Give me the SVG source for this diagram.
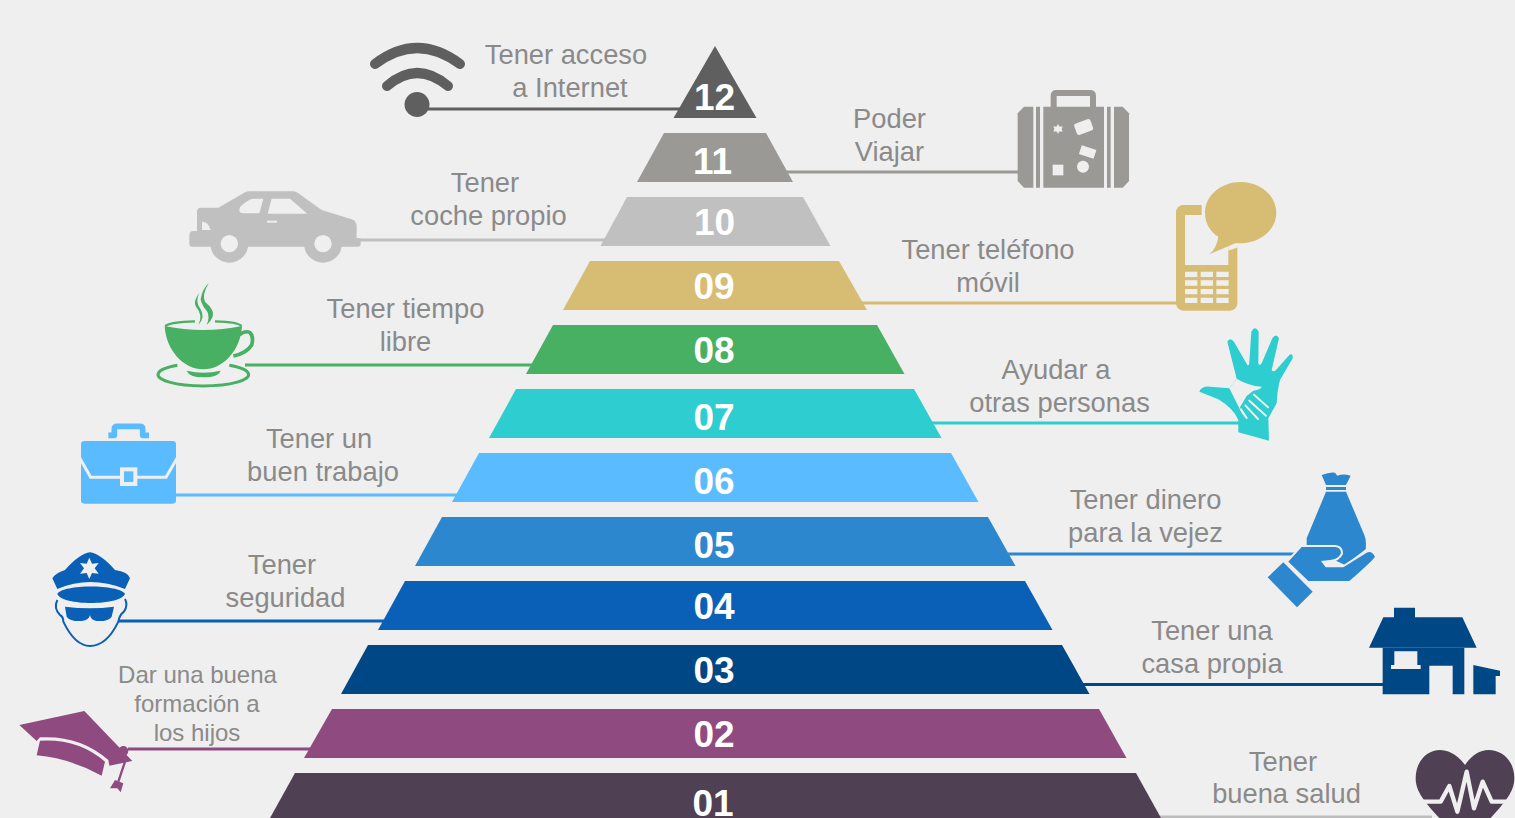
<svg xmlns="http://www.w3.org/2000/svg" width="1515" height="818" viewBox="0 0 1515 818">
<style>
text{font-family:"Liberation Sans",Arial,sans-serif;text-anchor:middle}
.l{font-size:27.300px;fill:#8a8a8a}
.s{font-size:24px;fill:#8a8a8a}
.n{font-size:37px;font-weight:700;fill:#fff}
.c{fill:none;stroke-width:3}
.bg{fill:#efefef}
</style>
<rect width="1515" height="818" fill="#efefef"/>
<g id="connectors">
<path class="c" stroke="#5f5f5f" d="M428 109H684"/>
<path class="c" stroke="#9a9996" d="M785 172H1020"/>
<path class="c" stroke="#c0c0c0" d="M358 240H606"/>
<path class="c" stroke="#d7bc74" d="M860 303H1180"/>
<path class="c" stroke="#48b063" d="M245 365H536"/>
<path class="c" stroke="#2dcdd0" d="M932 423H1242"/>
<path class="c" stroke="#5abcff" d="M174 495H460"/>
<path class="c" stroke="#2c87ce" d="M1008 554H1302"/>
<path class="c" stroke="#0a60b6" d="M118 621H386"/>
<path class="c" stroke="#004785" d="M1082 684.500H1386"/>
<path class="c" stroke="#8f4a7f" d="M128 749H312"/>
<path class="c" stroke="#bdbdbd" d="M1155 817H1432"/>
</g>
<g id="level-12"><path fill="#5f5f5f" d="M715 46L756.500 118H673.500Z"/><text class="n" x="714.500" y="110">12</text></g>
<g id="level-11"><path fill="#9a9996" d="M664 133H766L793 182H637Z"/><text class="n" x="712.500" y="174">11</text></g>
<g id="level-10"><path fill="#c0c0c0" d="M627 197H803L830.500 246H600.500Z"/><text class="n" x="714.500" y="235">10</text></g>
<g id="level-09"><path fill="#d7bc74" d="M590 261H839L867 310H563Z"/><text class="n" x="714" y="299">09</text></g>
<g id="level-08"><path fill="#48b063" d="M553 325H877L904.500 374H526Z"/><text class="n" x="714" y="363">08</text></g>
<g id="level-07"><path fill="#2dcdd0" d="M516 389H914L941.500 438H489Z"/><text class="n" x="714" y="430">07</text></g>
<g id="level-06"><path fill="#5abcff" d="M479 453H951L978.500 502H452Z"/><text class="n" x="714" y="494">06</text></g>
<g id="level-05"><path fill="#2c87ce" d="M442 517H988L1015.500 566H415Z"/><text class="n" x="714" y="558">05</text></g>
<g id="level-04"><path fill="#0a60b6" d="M405 581H1025L1052.500 630H378Z"/><text class="n" x="714" y="619">04</text></g>
<g id="level-03"><path fill="#004785" d="M368 645H1062L1089.500 694H341Z"/><text class="n" x="714" y="683">03</text></g>
<g id="level-02"><path fill="#8f4a7f" d="M332 709H1099L1126.500 758H304Z"/><text class="n" x="714" y="747">02</text></g>
<g id="level-01"><path fill="#4f4053" d="M295 773H1136L1161 818H270Z"/><text class="n" x="713" y="816">01</text></g>
<g id="labels">
<text class="l" x="566" y="64">Tener acceso</text><text class="l" x="570" y="97">a Internet</text>
<text class="l" x="889.500" y="128">Poder</text><text class="l" x="889.500" y="161">Viajar</text>
<text class="l" x="485" y="192">Tener</text><text class="l" x="488.500" y="225">coche propio</text>
<text class="l" x="988" y="259">Tener teléfono</text><text class="l" x="988" y="292">móvil</text>
<text class="l" x="405.500" y="318">Tener tiempo</text><text class="l" x="405.500" y="351">libre</text>
<text class="l" x="1056" y="379">Ayudar a</text><text class="l" x="1059.500" y="412">otras personas</text>
<text class="l" x="319" y="448">Tener un</text><text class="l" x="323" y="481">buen trabajo</text>
<text class="l" x="1145.500" y="509">Tener dinero</text><text class="l" x="1145.500" y="542">para la vejez</text>
<text class="l" x="282" y="574">Tener</text><text class="l" x="285.500" y="607">seguridad</text>
<text class="l" x="1212" y="640">Tener una</text><text class="l" x="1212" y="673">casa propia</text>
<text class="s" x="197.500" y="683">Dar una buena</text><text class="s" x="197" y="712">formación a</text><text class="s" x="197" y="741">los hijos</text>
<text class="l" x="1283" y="771">Tener</text><text class="l" x="1286.500" y="803">buena salud</text>
</g>
<g id="icon-wifi" fill="none" stroke="#5f5f5f" stroke-width="10" stroke-linecap="round">
<path d="M375 64Q417 32 460 64"/><path d="M387 86Q417 60 448 86"/><circle cx="417" cy="104.500" r="12.500" fill="#5f5f5f" stroke="none"/>
</g>
<g id="icon-suitcase" transform="translate(1000 80) scale(.33333)">
<path fill="none" stroke="#9a9996" stroke-width="18" d="M161 85V47Q161 39 170 39H270Q279 39 279 47V85"/>
<path fill="#9a9996" d="M72 80H368L387 100V303L368 323H72L53 303V100Z"/>
<path class="bg" d="M100 78h8v247h-8zM120 78h10v247h-10zM312 78h9v247h-9zM332 78h10v247h-10z"/>
<path class="bg" d="M174 132l5 8 9-1-3 8 3 8-9-1-5 7-5-7-9 1 3-8-3-8 9 1z"/>
<rect class="bg" x="225" y="123" width="52" height="36" rx="8" transform="rotate(-20 251 141)"/>
<rect class="bg" x="240" y="202" width="46" height="28" transform="rotate(18 263 216)"/>
<rect class="bg" x="158" y="254" width="32" height="32"/><circle class="bg" cx="249" cy="260" r="18"/>
</g>
<g id="icon-car" transform="translate(150 20) scale(.33333)" fill="#c0c0c0">
<path d="M118 645Q118 633 130 633H141V575Q141 563 153 563H205L285 517Q290 514 300 514H430Q437 514 445 520L515 570L605 598Q620 603 620 620V655H632V672Q632 680 624 680H126Q118 680 118 672Z"/>
<circle cx="238" cy="671" r="57"/><circle cx="519" cy="671" r="57"/>
<circle class="bg" cx="238" cy="671" r="26"/><circle class="bg" cx="519" cy="671" r="26"/>
<path class="bg" d="M268 570Q268 560 280 552Q300 536 310 536H340L328 580H280Q268 580 268 570Z"/>
<path class="bg" d="M365 536H420L472 581H353Z"/><rect class="bg" x="351" y="602" width="30" height="6"/>
<path class="bg" d="M156 605Q175 605 182 630H156Z"/>
</g>
<g id="icon-phone" transform="translate(1000 80) scale(.33333)">
<rect x="528" y="375" width="184" height="317" rx="22" fill="#d7bc74"/>
<rect class="bg" x="555" y="405" width="130" height="150"/>
<path class="bg" d="M605 365H725V498L685 512V405H605Z"/>
<path fill="#d7bc74" d="M722 306C781 306 829 347 829 398C829 449 781 490 722 490H706L628 523Q650 505 655 470C630 455 615 428 615 398C615 347 663 306 722 306Z"/>
<path class="bg" d="M555 575h37v16h-37zM602 575h37v16h-37zM649 575h37v16h-37zM555 601h37v16h-37zM602 601h37v16h-37zM649 601h37v16h-37zM555 627h37v16h-37zM602 627h37v16h-37zM649 627h37v16h-37zM555 653h37v16h-37zM602 653h37v16h-37zM649 653h37v16h-37z"/>
</g>
<g id="icon-cup" transform="translate(150 20) scale(.33333)" fill="#48b063">
<path fill="none" stroke="#48b063" stroke-width="9" d="M238 1036A136 34 0 1 1 82 1036"/>
<path fill="none" stroke="#48b063" stroke-width="11" d="M268 945Q285 930 300 938Q312 950 305 975Q290 1000 250 1008"/>
<path d="M44 918Q160 942 276 918C272 990 220 1048 160 1048C100 1048 48 990 44 918Z"/>
<path fill="none" stroke="#48b063" stroke-width="7" d="M135 904Q60 906 46 918M195 904Q265 906 274 918"/>
<path d="M110 1052Q160 1064 212 1052Q205 1072 160 1072Q118 1072 110 1052Z"/>
<path d="M176 790Q155 825 165 845Q195 870 188 890Q182 905 170 915Q180 890 172 875Q145 845 155 825Q160 805 176 790Z"/>
<path d="M148 818Q128 845 138 860Q160 885 145 915Q168 890 150 865Q135 845 148 818Z"/>
</g>
<g id="icon-hands" transform="translate(1190 320) scale(.33333)">
<path fill="#2dcdd0" d="M112 65Q120 50 132 65L172 135Q178 138 178 125L184 35Q195 15 206 35L205 130Q208 140 215 130L247 55Q258 38 267 55L245 150Q250 158 258 150L298 105Q310 98 308 115L270 180Q262 210 260 250L235 295L237 362L145 337V290L118 205L140 176Z"/>
<path fill="#2dcdd0" d="M28 215Q35 198 60 200L118 205L165 297L145 300Q130 265 85 238Q55 225 28 215Z"/>
<path class="bg" d="M118 205L140 176Q175 197 215 200Q214 208 190 212L170 228L150 262L163 295Z"/>
<g fill="none" stroke="#efefef" stroke-width="6" stroke-linecap="round">
<path d="M192 224L234 262"/><path d="M178 242L228 287"/><path d="M166 256L204 297"/><path d="M153 268L170 294"/>
</g>
</g>
<g id="icon-briefcase" transform="translate(0 400) scale(.33333)">
<path fill="none" stroke="#5abcff" stroke-width="17" d="M325 106H343V87Q343 79 352 79H420Q428 79 428 87V106H447" stroke-linejoin="round"/>
<rect x="243" y="123" width="285" height="188" rx="10" fill="#5abcff"/>
<path fill="none" stroke="#efefef" stroke-width="9" d="M238 172L272 232H498L533 172"/>
<rect x="366" y="208" width="40" height="44" fill="#5abcff" stroke="#efefef" stroke-width="12"/>
</g>
<g id="icon-police" transform="translate(0 400) scale(.33333)" fill="#0a60b6">
<path d="M157 535Q165 520 195 510Q240 460 270 457Q300 460 345 510Q385 515 390 535L375 567Q270 525 172 567Z"/>
<path fill="#efefef" d="M268 473L276 491L296 489L284 505L296 521L276 519L268 537L260 519L240 521L252 505L240 489L260 491Z"/>
<path d="M172 582C185 552 360 552 375 582C360 618 185 618 172 582Z"/>
<path fill="none" stroke="#0a60b6" stroke-width="6" d="M172 600Q160 625 180 645Q190 650 190 665Q225 738 270 738Q320 738 355 665Q358 645 372 635Q385 615 375 597"/>
<path d="M195 620Q270 630 342 620L335 650Q325 665 290 663Q272 660 270 645Q268 660 245 663Q210 665 200 650Z"/>
</g>
<g id="icon-gradcap" transform="translate(0 400) scale(.33333)" fill="#8f4a7f">
<path d="M58 975L253 933L397 1083L328 1097L325 1080Q240 1005 120 1012L110 1023Z"/>
<path d="M120 1022Q235 1015 315 1085L305 1127Q210 1075 110 1066Z"/>
<circle cx="370" cy="1053" r="15"/>
<path fill="none" stroke="#8f4a7f" stroke-width="7" d="M375 1085L355 1145"/>
<path d="M345 1140L370 1150L362 1177L352 1165L330 1165Z"/>
</g>
<g id="icon-moneybag" transform="translate(1250 460) scale(.33333)" fill="#2c87ce">
<path d="M215 45Q240 35 255 38L262 47Q280 40 302 47L288 75H228Z"/><rect x="228" y="81" width="60" height="9"/>
<path d="M228 95H288L343 225Q350 240 347 268L285 315L170 260V235Z"/>
<path stroke="#efefef" stroke-width="12" paint-order="stroke" stroke-linejoin="round" d="M155 261H255Q273 262 273 280Q265 298 240 300L213 303L227 322H280L350 278Q365 270 375 290Q370 300 298 363H175L115 305Z"/>
<path d="M100 307L188 395L141 442L53 352Z"/>
</g>
<g id="icon-house" transform="translate(1250 460) scale(.33333)" fill="#004785">
<path d="M357 563L400 472H432V443H495V472H637L680 563Z"/>
<path d="M398 563H643V703H608V617H538V703H398Z"/>
<path class="bg" d="M433 574H502V615H512V627H423V615H433Z"/>
<path d="M670 615L750 632V648H737V703H670Z"/>
</g>
<g id="icon-heart" transform="translate(1250 460) scale(.33333)">
<path fill="#4f4053" d="M645 915C620 880 590 870 570 870C530 870 497 905 497 955C497 1000 530 1040 645 1150C760 1040 793 1000 793 955C793 905 760 870 715 870C690 870 665 885 645 915Z"/>
<path fill="none" stroke="#efefef" stroke-width="13" stroke-linejoin="round" d="M515 1025H572L598 978L622 1055L650 935L672 1045L698 965L725 1025H780"/>
</g>
</svg>
